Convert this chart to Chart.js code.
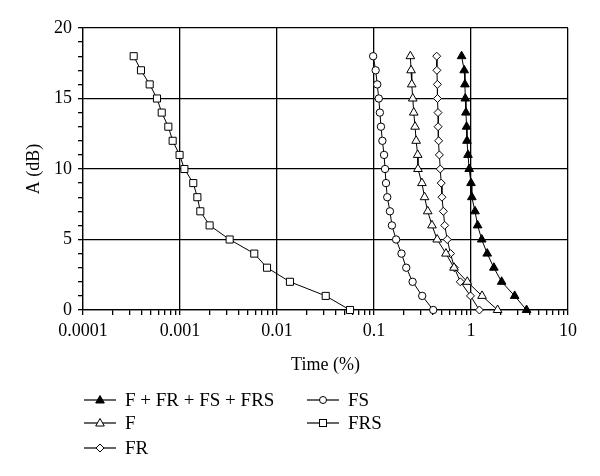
<!DOCTYPE html>
<html>
<head>
<meta charset="utf-8">
<script src="https://cdn.jsdelivr.net/npm/chart.js@4"></script>
<style>
  body { margin: 0; background: #fff; }
  #wrap { position: relative; width: 600px; height: 476px; }
  #legend { position: absolute; left: 0; top: 0; width: 600px; height: 476px; pointer-events: none;
            font-family: "Liberation Serif", serif; font-size: 19px; color: #000; }
  .item { position: absolute; height: 20px; line-height: 20px; white-space: nowrap; }
  .item svg { position: absolute; left: 0; top: 0; }
  .item span { position: absolute; left: 41px; top: 0; }
</style>
</head>
<body>
<div id="wrap">
  <canvas id="chart" width="600" height="476"></canvas>
  <div id="legend"></div>
</div>
<script>
// attenuation steps (dB), same for every curve
const levels = [18, 17, 16, 15, 14, 13, 12, 11, 10, 9, 8, 7, 6, 5, 4, 3, 2, 1, 0];

// time percentages, one per level
const timeAll = [0.80, 0.851, 0.866, 0.873, 0.887, 0.901, 0.909, 0.931, 0.958, 1.0, 1.02, 1.10, 1.17, 1.29, 1.47, 1.72, 2.07, 2.82, 3.74];
const timeF   = [0.237, 0.241, 0.245, 0.251, 0.257, 0.265, 0.272, 0.282, 0.284, 0.312, 0.332, 0.358, 0.396, 0.448, 0.552, 0.668, 0.915, 1.30, 1.88];
const timeFR  = [0.443, 0.445, 0.450, 0.451, 0.457, 0.458, 0.464, 0.472, 0.482, 0.493, 0.502, 0.519, 0.536, 0.569, 0.615, 0.673, 0.776, 0.988, 1.22];
const timeFS  = [0.098, 0.104, 0.108, 0.112, 0.115, 0.118, 0.122, 0.127, 0.130, 0.133, 0.137, 0.146, 0.153, 0.169, 0.192, 0.215, 0.250, 0.314, 0.408];
const timeFRS = [0.000333, 0.000396, 0.000487, 0.000579, 0.000648, 0.000758, 0.00084, 0.00099, 0.00111, 0.00137, 0.00151, 0.00162, 0.00202, 0.00325, 0.00583, 0.00789, 0.0136, 0.0318, 0.0566];

const seriesNames = ['F + FR + FS + FRS', 'F', 'FR', 'FS', 'FRS'];
const xTickLabels = [0.0001, 0.001, 0.01, 0.1, 1, 10];
const yTickLabels = [0, 5, 10, 15, 20];

const font = { family: 'Liberation Serif', size: 18 };

function pts(times) {
    return times.map(function(t, i) { return { x: t, y: levels[i] }; });
}

function series(label, times, style, radius, fill) {
    return {
        label: label,
        data: pts(times),
        showLine: true,
        borderColor: '#000',
        borderWidth: 1,
        pointStyle: style,
        pointRadius: radius,
        pointBorderColor: '#000',
        pointBorderWidth: 1,
        pointBackgroundColor: fill,
        clip: false
    };
}

const datasets = [
    series(seriesNames[0], timeAll, 'triangle', 5, '#000'),
    series(seriesNames[1], timeF, 'triangle', 5, '#fff'),
    series(seriesNames[2], timeFR, 'rectRot', 4, '#fff'),
    series(seriesNames[3], timeFS, 'circle', 3.7, '#fff'),
    series(seriesNames[4], timeFRS, 'rect', 5, '#fff')
];

function decadeOf(v) {
    return xTickLabels.find(function(d) { return Math.abs(v / d - 1) < 1e-6; });
}

// log scale ticks: 1..9 in every decade
function logTicks(scale) {
    const ticks = [];
    xTickLabels.forEach(function(d, i) {
        if (i === xTickLabels.length - 1) {
            ticks.push({ value: d });
            return;
        }
        for (let k = 1; k <= 9; k++) ticks.push({ value: d * k });
    });
    scale.ticks = ticks;
}

new Chart(document.getElementById('chart'), {
    type: 'scatter',
    data: { datasets: datasets },
    options: {
        responsive: false,
        animation: false,
        layout: { padding: { left: 23, right: 32, top: 28, bottom: 100 } },
        plugins: { legend: { display: false }, tooltip: { enabled: false } },
        scales: {
            x: {
                type: 'logarithmic',
                min: 0.0001,
                max: 10,
                afterBuildTicks: logTicks,
                afterFit: function(s) { s.height = 66; },
                border: { color: '#000', width: 1.2 },
                grid: {
                    color: function(c) { return c.tick && decadeOf(c.tick.value) ? '#000' : 'rgba(0,0,0,0)'; },
                    tickColor: '#000',
                    tickLength: 5,
                    lineWidth: 1.3
                },
                ticks: {
                    autoSkip: false,
                    maxRotation: 0,
                    padding: 5,
                    color: '#000',
                    font: font,
                    callback: function(v) {
                        const d = decadeOf(v);
                        return d ? String(d) : '';
                    }
                },
                title: { display: true, text: 'Time (%)', color: '#000', font: font, padding: { top: 0, bottom: 0 } }
            },
            y: {
                min: 0,
                max: 20,
                afterFit: function(s) { s.width = 60; },
                border: { color: '#000', width: 1.2 },
                grid: {
                    color: function(c) { return c.tick && yTickLabels.indexOf(c.tick.value) >= 0 ? '#000' : 'rgba(0,0,0,0)'; },
                    tickColor: '#000',
                    tickLength: 5,
                    lineWidth: 1.3
                },
                ticks: {
                    stepSize: 1,
                    autoSkip: false,
                    padding: 6,
                    color: '#000',
                    font: font,
                    callback: function(v) { return yTickLabels.indexOf(v) >= 0 ? String(v) : ''; }
                },
                title: { display: true, text: 'A (dB)', color: '#000', font: font, padding: { top: 0, bottom: 0 } }
            }
        }
    }
});

// ------------------ legend ------------------
const legendPos = [
    { left: 84, top: 390 }, { left: 84, top: 413 }, { left: 84, top: 438 },
    { left: 307, top: 390 }, { left: 307, top: 413 }
];

function markerSvg(ds) {
    const c = 16, m = 10;
    let shape = '';
    const f = ds.pointBackgroundColor;
    if (ds.pointStyle === 'triangle') {
        shape = '<polygon points="' + c + ',' + (m - 4.5) + ' ' + (c + 4.3) + ',' + (m + 3) + ' ' + (c - 4.3) + ',' + (m + 3) + '" fill="' + f + '" stroke="#000"/>';
    } else if (ds.pointStyle === 'rectRot') {
        shape = '<polygon points="' + c + ',' + (m - 4) + ' ' + (c + 4) + ',' + m + ' ' + c + ',' + (m + 4) + ' ' + (c - 4) + ',' + m + '" fill="' + f + '" stroke="#000"/>';
    } else if (ds.pointStyle === 'circle') {
        shape = '<circle cx="' + c + '" cy="' + m + '" r="3.5" fill="' + f + '" stroke="#000"/>';
    } else {
        shape = '<rect x="' + (c - 3.5) + '" y="' + (m - 3.5) + '" width="7" height="7" fill="' + f + '" stroke="#000"/>';
    }
    return '<svg width="34" height="20"><line x1="0" y1="' + m + '" x2="32" y2="' + m + '" stroke="#000" stroke-width="1.2"/>' + shape + '</svg>';
}

const legend = document.getElementById('legend');
datasets.forEach(function(ds, i) {
    const div = document.createElement('div');
    div.className = 'item';
    div.style.left = legendPos[i].left + 'px';
    div.style.top = legendPos[i].top + 'px';
    div.innerHTML = markerSvg(ds) + '<span>' + ds.label + '</span>';
    legend.appendChild(div);
});
</script>
</body>
</html>
